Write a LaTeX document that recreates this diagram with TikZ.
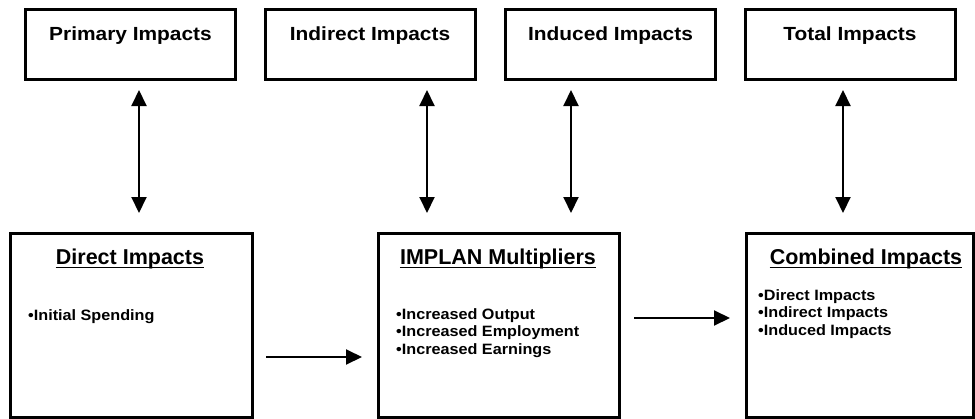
\documentclass[tikz,border=0pt]{standalone}
\usepackage{fontspec}
\setmainfont{Liberation Sans}
\usetikzlibrary{arrows.meta}
\begin{document}
\begin{tikzpicture}[x=1pt,y=-1pt,
  topbox/.style={draw,line width=3pt,inner sep=0pt,minimum width=210pt,minimum height=70pt},
  bigbox/.style={draw,line width=3pt,inner sep=0pt,minimum height=184pt},
  toplabel/.style={inner sep=0pt,anchor=base,font=\bfseries\fontsize{19}{22}\selectfont},
  heading/.style={inner sep=0pt,anchor=base,font=\bfseries\fontsize{21.5}{24}\selectfont},
  bullets/.style={inner sep=0pt,anchor=north west,align=left,font=\bfseries\fontsize{15}{17.8}\selectfont},
  ulinestyle/.style={line width=1.6pt},
  link/.style={line width=2pt,-{Triangle[length=16pt,width=15pt]}},
  twoway/.style={line width=2pt,{Triangle[length=16pt,width=15pt]}-{Triangle[length=16pt,width=15pt]}}]
\useasboundingbox[fill=white] (0,0) rectangle (975,418);

% top row of boxes
\node[topbox] (primary)  at (130.5,44) {};
\node[topbox] (indirect) at (370,44) {};
\node[topbox] (induced)  at (610.5,44) {};
\node[topbox] (total)    at (850,44) {};
\node[toplabel] (primaryT)  at (130.5,40) {\scalebox{1.1}[1]{Primary Impacts}};
\node[toplabel] (indirectT) at (370,40)   {\scalebox{1.1}[1]{Indirect Impacts}};
\node[toplabel] (inducedT)  at (610.5,40) {\scalebox{1.1}[1]{Induced Impacts}};
\node[toplabel] (totalT)    at (850,40)   {\scalebox{1.1}[1]{Total Impacts}};

% bottom row of boxes
\node[bigbox,minimum width=242pt] (direct)   at (131,325) {};
\node[bigbox,minimum width=241pt] (implan)   at (498.5,325) {};
\node[bigbox,minimum width=227pt] (combined) at (859.5,325) {};

% underlined headings
\node[heading] (directH)   at (130,264) {Direct Impacts};
\node[heading] (implanH)   at (498,264) {IMPLAN Multipliers};
\node[heading] (combinedH) at (866,264) {Combined Impacts};
\foreach \h in {directH,implanH,combinedH}
  \draw[ulinestyle] ([yshift=-3.5pt]\h.base west) -- ([yshift=-3.5pt]\h.base east);

% bullet lists
\node[bullets] (directL) at (28,309) {\scalebox{1.08}[1]{•Initial Spending}};
\node[bullets] (implanL) at (396,308) {\scalebox{1.08}[1]{•Increased Output}\\\scalebox{1.08}[1]{•Increased Employment}\\\scalebox{1.08}[1]{•Increased Earnings}};
\node[bullets] (combinedL) at (758,289) {\scalebox{1.08}[1]{•Direct Impacts}\\\scalebox{1.08}[1]{•Indirect Impacts}\\\scalebox{1.08}[1]{•Induced Impacts}};

% two-way links between the rows
\foreach \n/\x in {p/139,i/427,d/571,t/843} {
  \coordinate (\n up) at (\x,90);
  \coordinate (\n down) at (\x,213);
  \draw[twoway] (\n up) -- (\n down);
}

% flow arrows along the bottom row
\coordinate (a1s) at (266,357);
\coordinate (a1e) at (362,357);
\coordinate (a2s) at (634,318);
\coordinate (a2e) at (730,318);
\draw[link] (a1s) -- (a1e);
\draw[link] (a2s) -- (a2e);
\end{tikzpicture}
\end{document}
